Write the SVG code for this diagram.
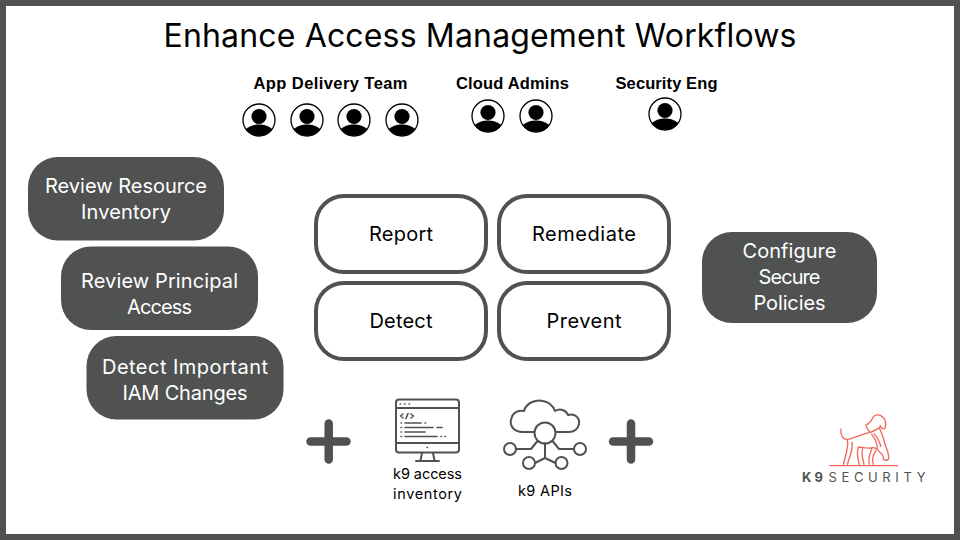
<svg xmlns="http://www.w3.org/2000/svg" width="960" height="540" viewBox="0 0 960 540">
<style>
.m{font-family:"Inter","Open Sans","Liberation Sans",sans-serif;text-anchor:middle}
.h{font-family:"Liberation Sans","Open Sans",sans-serif;font-weight:700;font-size:16.5px;fill:#000;text-anchor:middle}
.d{fill:#505251}
.w{fill:#fff;font-size:20px}
.b{fill:#fff;stroke:#505251;stroke-width:4}
.k{fill:#000;font-size:20px}
.s{fill:#000;font-size:14.5px}
.i{fill:none;stroke:#505251;stroke-width:2;stroke-linecap:round;stroke-linejoin:round}
.t{fill:none;stroke:#505251;stroke-width:1.6;stroke-linecap:round;stroke-linejoin:round}
.p{fill:none;stroke:#505251;stroke-width:8.5;stroke-linecap:round}
.l{fill:none;stroke:#f0685c;stroke-width:4;stroke-linecap:round;stroke-linejoin:round}
</style>
<defs>
<g id="user">
<circle cx="0" cy="0" r="16" fill="#fff" stroke="#000" stroke-width="1.3"/>
<circle cx="0" cy="-3.5" r="7.6" fill="#000"/>
<path d="M-13.500 9.500C-9.500 5.600-4.500 4.600 0 4.600S9.500 5.600 13.500 9.500A16 16 0 0 1 7 14.600Q0 16.800-7 14.600A16 16 0 0 1-13.500 9.500Z" fill="#000"/>
</g>
</defs>
<rect x="0" y="0" width="960" height="540" fill="#505251"/>
<rect x="6" y="6" width="948" height="528" fill="#fff"/>
<text class="m" x="480" y="47" font-size="32" fill="#000" textLength="633" lengthAdjust="spacing">Enhance Access Management Workflows</text>
<g id="team-app"><text class="h" x="330.500" y="89" textLength="154" lengthAdjust="spacing">App Delivery Team</text>
<use href="#user" x="259" y="120"/><use href="#user" x="307" y="120"/><use href="#user" x="354" y="120"/><use href="#user" x="402" y="120"/></g>
<g id="team-cloud"><text class="h" x="512.500" y="89" textLength="113" lengthAdjust="spacing">Cloud Admins</text>
<use href="#user" x="488" y="116"/><use href="#user" x="536" y="116"/></g>
<g id="team-sec"><text class="h" x="666.500" y="89" textLength="102" lengthAdjust="spacing">Security Eng</text>
<use href="#user" x="665" y="114"/></g>
<g id="n-resource"><rect class="d" x="28" y="157" width="196" height="83.500" rx="30"/>
<text class="m w" x="126" y="192.500" textLength="162" lengthAdjust="spacing">Review Resource</text><text class="m w" x="126" y="218.500" textLength="90" lengthAdjust="spacing">Inventory</text></g>
<g id="n-principal"><rect class="d" x="61" y="246.500" width="197" height="83.500" rx="30"/>
<text class="m w" x="159.500" y="287.500" textLength="157" lengthAdjust="spacing">Review Principal</text><text class="m w" x="159.500" y="313.500" textLength="65" lengthAdjust="spacing">Access</text></g>
<g id="n-iam"><rect class="d" x="86.500" y="336" width="197" height="83.500" rx="30"/>
<text class="m w" x="185" y="373.500" textLength="166" lengthAdjust="spacing">Detect Important</text><text class="m w" x="185" y="399.500" textLength="125" lengthAdjust="spacing">IAM Changes</text></g>
<g id="n-report"><rect class="b" x="316" y="196" width="170" height="76" rx="28"/><text class="m k" x="401" y="240.500" textLength="64" lengthAdjust="spacing">Report</text></g>
<g id="n-remediate"><rect class="b" x="499" y="196" width="170" height="76" rx="28"/><text class="m k" x="584" y="240.500" textLength="104" lengthAdjust="spacing">Remediate</text></g>
<g id="n-detect"><rect class="b" x="316" y="283" width="170" height="76" rx="28"/><text class="m k" x="401" y="327.500" textLength="63" lengthAdjust="spacing">Detect</text></g>
<g id="n-prevent"><rect class="b" x="499" y="283" width="170" height="76" rx="28"/><text class="m k" x="584" y="327.500" textLength="75" lengthAdjust="spacing">Prevent</text></g>
<g id="n-configure"><rect class="d" x="702" y="232" width="175" height="91" rx="30"/>
<text class="m w" x="789.500" y="257.500" textLength="94" lengthAdjust="spacing">Configure</text><text class="m w" x="789.500" y="283.500" textLength="62" lengthAdjust="spacing">Secure</text><text class="m w" x="789.500" y="309.500" textLength="72" lengthAdjust="spacing">Policies</text></g>
<g id="plus-1"><path class="p" d="M328.700 423.500V459.500M310.500 441.500H346.500"/></g>
<g id="plus-2"><path class="p" d="M631 423.500V459.500M613 441.500H649"/></g>
<g id="n-inventory">
<rect class="i" x="396" y="399.500" width="63" height="53" rx="3"/>
<path class="i" d="M396 408H459M396 443H459M422 453L420.500 460.500M433 453L434.500 460.500M416 461H439"/>
<path class="t" d="M400 404H400.500M404.500 404H405M409 404H409.500M403 414L400.500 416L403 418M411 414L413.500 416L411 418M408 413.500L406 418.500"/>
<path class="t" d="M401 423H401.500M405 423H421M425 423H425.500M401 427.500H401.500M405 427.500H433M437 427.500H442M401 432H401.500M405 432H425M401 436.500H401.500M405 436.500H437M441 436.500H441.500M445 436.500H445.500M427 447.500H427.500"/>
<text class="m s" x="427.500" y="479" textLength="69" lengthAdjust="spacing">k9 access</text><text class="m s" x="427.500" y="499" textLength="69" lengthAdjust="spacing">inventory</text></g>
<g id="n-apis">
<path class="i" d="M534 432H523C513 432 509 425 511.500 418C513 412 519 410 524 411C526 403 536 399 543 401C549 402 553 406 555 411C560 408 566 410 568 415C575 413 580 418 579 424C578 429 574 432 569 432H556"/>
<circle class="i" cx="545" cy="433" r="10.500"/>
<path class="i" d="M545 443.500V458M545 458L535 463M545 458L555.500 463M537.500 441L531 449H516M552.500 441L559 449H574"/>
<circle class="i" cx="510" cy="449" r="6"/><circle class="i" cx="580" cy="449" r="6"/><circle class="i" cx="529" cy="463" r="6"/><circle class="i" cx="561.500" cy="463" r="6"/>
<text class="m s" x="545" y="496" textLength="54" lengthAdjust="spacing">k9 APIs</text></g>
<g id="logo">
<g transform="translate(790 405) scale(.3333)">
<path class="l" d="M120 182H323"/>
<path class="l" d="M153 72C150 90 158 102 172 103C185 104 205 90 240 82C232 72 228 66 228 60C236 56 244 50 248 38C254 28 268 26 278 36C286 44 290 56 285 70C280 74 274 70 270 62"/>
<path class="l" d="M240 82C250 80 262 72 268 68C274 84 282 100 285 118C292 135 298 150 296 162C290 168 284 166 280 162C282 154 276 146 268 140C262 132 256 128 250 128"/>
<path class="l" d="M172 104C178 122 168 145 160 178M186 112C190 130 180 155 172 178M250 128C235 132 220 128 205 126C198 150 205 165 208 178M218 128C212 150 220 165 222 178M245 88C255 100 262 115 262 130M252 86C262 98 270 112 272 124M258 136C248 150 246 165 250 178M245 132C238 150 234 165 238 178"/>
</g>
<text x="802" y="481.500" font-family="Inter,'Open Sans',sans-serif" font-size="13" font-weight="700" fill="#505251" textLength="21" lengthAdjust="spacing">K 9</text>
<text x="828.500" y="481.500" font-family="Inter,'Open Sans',sans-serif" font-size="13" fill="#505251" textLength="97" lengthAdjust="spacing">SECURITY</text>
</g>
</svg>
